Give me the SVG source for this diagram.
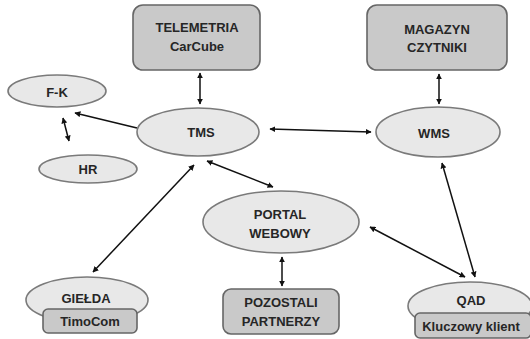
<svg xmlns="http://www.w3.org/2000/svg" width="530" height="339" viewBox="0 0 530 339">
<style>
.el{fill:#e8e8e8;stroke:#7a7a7a;stroke-width:1.6}
.bx{fill:#c9c9c9;stroke:#666;stroke-width:1.6}
.t{font-family:"Liberation Sans",Arial,sans-serif;font-weight:bold;font-size:13px;fill:#262626;text-anchor:middle;dominant-baseline:central}
.c{stroke:#111;stroke-width:1.5;fill:none;marker-end:url(#ah)}
.d{marker-start:url(#ah)}
</style>
<defs>
<marker id="ah" viewBox="0 0 10 10" refX="9" refY="5" markerWidth="6" markerHeight="6" markerUnits="userSpaceOnUse" orient="auto-start-reverse">
<path d="M0,0 L10,5 L0,10 z" fill="#111"/>
</marker>
</defs>
<rect width="530" height="339" fill="#fff"/>
<g id="connectors">
<line class="c d" x1="200" y1="73" x2="200" y2="104"/>
<line class="c d" x1="439" y1="74" x2="439" y2="104"/>
<line class="c" x1="137" y1="128" x2="75" y2="113"/>
<line class="c d" x1="63" y1="118" x2="69" y2="141"/>
<line class="c d" x1="270" y1="129" x2="371" y2="132"/>
<line class="c d" x1="207" y1="161" x2="273" y2="187"/>
<line class="c d" x1="93" y1="272" x2="194" y2="165"/>
<line class="c d" x1="370" y1="227" x2="465" y2="277"/>
<line class="c d" x1="442" y1="163" x2="475" y2="277"/>
<line class="c d" x1="282" y1="257" x2="282" y2="286"/>
</g>
<g id="telemetria">
<rect class="bx" x="133" y="5" width="127" height="65" rx="10"/>
<text class="t" x="197" y="27">TELEMETRIA</text>
<text class="t" x="197" y="46">CarCube</text>
</g>
<g id="magazyn">
<rect class="bx" x="367" y="5" width="140" height="65" rx="10"/>
<text class="t" x="437" y="29">MAGAZYN</text>
<text class="t" x="437" y="47">CZYTNIKI</text>
</g>
<g id="fk">
<ellipse class="el" cx="57" cy="91" rx="49" ry="16"/>
<text class="t" x="57" y="92">F-K</text>
</g>
<g id="tms">
<ellipse class="el" cx="198" cy="132" rx="61" ry="24"/>
<text class="t" x="201" y="132">TMS</text>
</g>
<g id="hr">
<ellipse class="el" cx="88" cy="169" rx="49" ry="14"/>
<text class="t" x="88" y="169">HR</text>
</g>
<g id="wms">
<ellipse class="el" cx="438" cy="132" rx="62" ry="25"/>
<text class="t" x="434" y="133">WMS</text>
</g>
<g id="portal">
<ellipse class="el" cx="281" cy="222" rx="78" ry="31"/>
<text class="t" x="280" y="214">PORTAL</text>
<text class="t" x="280" y="233">WEBOWY</text>
</g>
<g id="pozostali">
<rect class="bx" x="223" y="289" width="116" height="45" rx="8"/>
<text class="t" x="281" y="302">POZOSTALI</text>
<text class="t" x="281" y="321">PARTNERZY</text>
</g>
<g id="gielda">
<ellipse class="el" cx="87" cy="300" rx="61" ry="23"/>
<text class="t" x="86" y="298">GIEŁDA</text>
<rect class="bx" x="43" y="309" width="94" height="24" rx="5"/>
<text class="t" x="90" y="321">TimoCom</text>
</g>
<g id="qad">
<ellipse class="el" cx="470" cy="306" rx="62" ry="24"/>
<text class="t" x="471" y="300">QAD</text>
<rect class="bx" x="415" y="313" width="116" height="25" rx="5"/>
<text class="t" x="471" y="326">Kluczowy klient</text>
</g>
</svg>
